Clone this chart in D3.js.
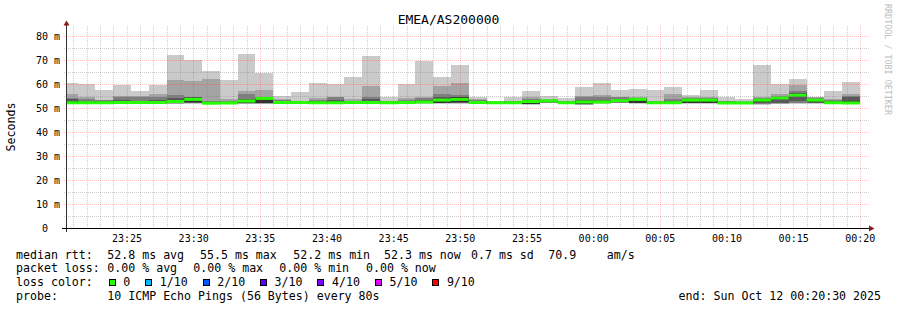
<!DOCTYPE html>
<meta charset="utf-8">
<style>
body { margin: 0; background: #fff; }
svg text { font-family: "DejaVu Sans Mono", monospace; fill: #000; }
.axis text { font-size: 10px; white-space: pre; }
.axis .domain { display: none; }
.legend { font-size: 11.6px; white-space: pre; }
</style>
<body>
<script src="https://cdn.jsdelivr.net/npm/d3@7"></script>
<svg id="chart" width="897" height="310"></svg>
<script>

// 80s steps from 23:20:00, 10 pings per step (sorted), values in ms
var minRtt = [51.8,51.9,51.9,51.9,51.9,51.9,51.9,52.0,51.8,51.8, 51.9,51.9,51.9,51.9,51.9,51.9,51.9,51.9,51.9,51.9, 52.0,52.0,52.0,51.9,51.9,51.9,51.6,52.1,51.9,51.5, 52.0,52.1,52.0,51.9,51.9,52.0,52.0,51.8,51.8,51.6, 51.9,52.0,52.0,51.9,51.9];
var rtt2   = [51.9,52.0,52.0,52.0,52.0,52.0,52.0,52.1,51.9,51.9, 52.0,52.0,52.0,52.0,52.0,52.0,52.0,52.0,52.0,52.0, 52.1,52.1,52.1,52.0,52.0,52.0,51.7,52.3,52.0,51.6, 52.1,52.3,52.1,52.0,52.0,52.1,52.1,51.9,51.9,51.8, 52.0,52.2,52.1,52.0,52.0];
var rtt3   = [52.0,52.1,52.1,52.1,52.1,52.1,52.1,52.2,52.0,52.0, 52.1,52.1,52.1,52.1,52.1,52.1,52.1,52.1,52.1,52.1, 52.2,52.2,52.3,52.1,52.1,52.1,51.8,52.5,52.1,51.7, 52.2,52.5,52.2,52.1,52.1,52.2,52.2,52.0,52.0,52.0, 52.1,52.5,52.3,52.1,52.1];
var rtt4   = [52.1,52.2,52.2,52.2,52.2,52.2,52.2,52.4,52.1,52.1, 52.2,52.2,52.2,52.2,52.2,52.2,52.2,52.2,52.2,52.2, 52.3,52.3,52.5,52.2,52.2,52.2,51.9,52.7,52.2,51.8, 52.3,52.7,52.3,52.2,52.2,52.3,52.3,52.1,52.1,52.2, 52.2,53.0,52.5,52.2,52.2];
var rtt5   = [52.2,52.3,52.3,52.3,52.3,52.3,52.3,52.6,52.2,52.2, 52.3,52.3,52.3,52.3,52.3,52.3,52.3,52.3,52.3,52.3, 52.4,52.5,52.8,52.3,52.3,52.3,52.0,53.0,52.3,51.9, 52.4,53.0,52.4,52.3,52.3,52.4,52.4,52.2,52.2,52.6, 53.8,54.6,52.8,52.3,52.3];
var rtt6   = [53.2,52.9,52.8,53.0,52.8,52.9,53.2,54.4,52.6,52.7, 53.4,54.4,52.8,52.7,52.9,53.0,52.8,53.2,52.6,52.9, 53.0,53.8,54.6,52.8,52.7,52.7,53.3,53.3,52.7,53.1, 53.1,53.5,54.0,52.7,52.9,53.8,53.8,52.6,52.6,53.6, 54.8,56.0,53.7,52.8,53.0];
var rtt7   = [53.8,53.3,53.1,53.7,53.0,53.5,54.2,54.6,52.8,52.9, 53.8,54.6,53.0,52.8,53.2,53.5,53.0,53.8,52.8,53.2, 53.4,54.6,54.8,53.0,52.8,52.8,53.5,53.4,52.8,53.4, 53.6,53.8,54.1,52.8,53.2,53.9,53.9,52.8,52.7,53.8, 55.0,56.5,53.9,53.0,55.0];
var rtt8   = [54.5,54.0,53.4,54.6,54.8,54.6,55.8,55.0,53.0,53.2, 56.0,55.0,53.4,53.0,53.6,54.6,53.3,55.0,53.0,53.6, 54.2,56.2,55.5,53.4,52.9,53.0,53.8,53.6,53.0,54.6, 54.6,54.6,54.3,53.0,54.0,54.2,54.2,53.0,52.9,54.2, 55.4,57.5,54.2,53.4,55.2];
var rtt9   = [56.2,54.9,53.7,55.4,55.4,56.2,61.7,61.3,62.5,53.8, 57.5,57.9,53.8,53.3,54.2,55.0,53.8,59.2,53.3,54.2, 55.0,59.2,60.8,53.8,53.0,53.2,54.6,54.0,53.2,55.4, 55.8,55.0,54.6,53.3,56.2,54.6,54.6,53.3,53.0,55.0, 56.2,59.6,54.6,53.8,56.2];
var maxRtt = [60.8,60.4,57.9,60.0,57.5,60.0,72.5,70.4,65.8,61.7, 72.9,64.6,55.4,56.7,60.8,60.4,63.3,71.7,54.6,60.4, 70.0,63.3,68.3,55.0,53.3,54.6,57.1,55.4,54.2,58.8, 60.8,57.9,58.3,57.9,58.8,55.8,57.9,54.6,53.8,68.3, 60.4,62.1,55.0,57.1,61.2];
var median = [52.4,52.4,52.4,52.5,52.5,52.5,52.9,53.8,52.2,52.3, 53.1,54.2,52.5,52.5,52.4,52.4,52.5,52.5,52.4,52.5, 52.7,53.5,53.8,52.5,52.4,52.4,52.9,53.2,52.4,52.7, 52.7,53.3,53.8,52.4,52.4,53.5,53.5,52.3,52.3,53.5, 54.4,55.5,53.5,52.4,52.3];

var yMajor = [10, 20, 30, 40, 50, 60, 70, 80];
var yMinor = [5, 15, 25, 35, 45, 55, 65, 75];

var lossLabels = ["0", "1/10", "2/10", "3/10", "4/10", "5/10", "9/10"];
var lossColors = ["#26ff00", "#00b8ff", "#0059ff", "#5e00ff", "#7e00ff", "#dd00ff", "#ff0000"];

var smokeColors = ["#cacaca", "#a4a4a4", "#7e7e7e", "#585858", "#323232"];

var statsRtt = ["median rtt:", "52.8 ms avg", "55.5 ms max", "52.2 ms min", "52.3 ms now", "0.7 ms sd", "70.9", "am/s"];
var statsLoss = ["packet loss:", "0.00 % avg", "0.00 % max", "0.00 % min", "0.00 % now"];
var probeText = ["probe:", "10 ICMP Echo Pings (56 Bytes) every 80s"];

var stepSec = 80;
var firstBin = new Date(2025, 9, 11, 23, 20, 0),
    tStart = new Date(2025, 9, 11, 23, 20, 30),
    tEnd = new Date(2025, 9, 12, 0, 20, 30);

var svg = d3.select("#chart");

svg.append("rect").attr("width", 897).attr("height", 310).attr("fill", "#fff");

var x = d3.scaleTime().domain([tStart, tEnd]).range([66.5, 866.5]);
var y = d3.scaleLinear().domain([0, 83.75]).range([228.5, 27.5]);

function binStart(i) { return new Date(firstBin.getTime() + i * stepSec * 1000); }
function binEnd(i) { return new Date(firstBin.getTime() + (i + 1) * stepSec * 1000); }

// smoke: pairs (min,max), (2,9), (3,8), (4,7), (5,6)
var lowers = [minRtt, rtt2, rtt3, rtt4, rtt5],
    uppers = [maxRtt, rtt9, rtt8, rtt7, rtt6];

var smoke = svg.append("g").attr("shape-rendering", "crispEdges");
lowers.forEach(function(lo, k) {
  smoke.append("g")
    .selectAll("rect")
    .data(d3.range(median.length))
    .enter().append("rect")
      .attr("x", function(i) { return Math.max(67, x(binStart(i))); })
      .attr("width", function(i) { return x(binEnd(i)) - Math.max(67, x(binStart(i))); })
      .attr("y", function(i) { return y(uppers[k][i]); })
      .attr("height", function(i) { return y(lo[i]) - y(uppers[k][i]); })
      .attr("fill", smokeColors[k]);
});

// median band, coloured by loss (all 0 here)
svg.append("g")
    .selectAll("rect")
    .data(d3.range(median.length))
    .enter().append("rect")
      .attr("x", function(i) { return Math.max(67, x(binStart(i))); })
      .attr("width", function(i) { return x(binEnd(i)) - Math.max(67, x(binStart(i))); })
      .attr("y", function(i) { return y(median[i]) - 1.5; })
      .attr("height", 3)
      .attr("fill", lossColors[0]);

// grid (drawn over the data like rrdtool)
var minorCol = "rgba(130,130,130,0.4)",
    majorCol = "rgba(255,30,30,0.28)";
var grid = svg.append("g").attr("shape-rendering", "crispEdges");

var xMinor = x.ticks(d3.timeMinute.every(1)).filter(function(d) { return d.getMinutes() % 5 != 0; });
var xMajor = x.ticks(d3.timeMinute.every(5));

grid.selectAll(".xmin").data(xMinor).enter().append("line")
    .attr("x1", function(d) { return Math.round(x(d)) + 0.5; })
    .attr("x2", function(d) { return Math.round(x(d)) + 0.5; })
    .attr("y1", 26).attr("y2", 230)
    .attr("stroke", minorCol).attr("stroke-dasharray", "1,1");
grid.selectAll(".xmaj").data(xMajor).enter().append("line")
    .attr("x1", function(d) { return Math.round(x(d)) + 0.5; })
    .attr("x2", function(d) { return Math.round(x(d)) + 0.5; })
    .attr("y1", 26).attr("y2", 231)
    .attr("stroke", majorCol).attr("stroke-dasharray", "1,1");
grid.selectAll(".ymin").data(yMinor).enter().append("line")
    .attr("x1", 64).attr("x2", 869)
    .attr("y1", function(d) { return Math.round(y(d) - 0.5) + 0.5; })
    .attr("y2", function(d) { return Math.round(y(d) - 0.5) + 0.5; })
    .attr("stroke", minorCol).attr("stroke-dasharray", "1,1");
grid.selectAll(".ymaj").data(yMajor).enter().append("line")
    .attr("x1", 62).attr("x2", 869)
    .attr("y1", function(d) { return Math.round(y(d) - 0.5) + 0.5; })
    .attr("y2", function(d) { return Math.round(y(d) - 0.5) + 0.5; })
    .attr("stroke", majorCol).attr("stroke-dasharray", "1,1");

// axes labels through d3 axes
var yAxis = d3.axisLeft(y)
    .tickValues([0].concat(yMajor))
    .tickSize(0)
    .tickPadding(6.5)
    .tickFormat(function(d) { return d == 0 ? "0  " : d + " m"; });
svg.append("g").attr("class", "axis")
    .attr("transform", "translate(66.5,0)")
    .call(yAxis)
  .selectAll("text").attr("xml:space", "preserve");

var xAxis = d3.axisBottom(x)
    .ticks(d3.timeMinute.every(5))
    .tickSize(0)
    .tickPadding(6)
    .tickFormat(d3.timeFormat("%H:%M"));
svg.append("g").attr("class", "axis")
    .attr("transform", "translate(0,228.5)")
    .call(xAxis);

// axis lines and arrows
svg.append("line").attr("x1", 66.5).attr("x2", 66.5).attr("y1", 232).attr("y2", 24)
    .attr("stroke", "#333").attr("shape-rendering", "crispEdges");
svg.append("line").attr("x1", 62).attr("x2", 870).attr("y1", 228.5).attr("y2", 228.5)
    .attr("stroke", "#000").attr("shape-rendering", "crispEdges");
svg.append("path").attr("d", "M66.5,20.5L63.5,25.5L69.5,25.5Z").attr("fill", "#8b1a1a");
svg.append("path").attr("d", "M874.5,228.5L869,225.5L869,231.5Z").attr("fill", "#8b1a1a");

// title, vertical label, watermark
svg.append("text").attr("x", 448.5).attr("y", 24)
    .attr("text-anchor", "middle").style("font-size", "13px")
    .text("EMEA/AS200000");
svg.append("text")
    .attr("transform", "translate(14.5,127) rotate(-90)")
    .attr("text-anchor", "middle").style("font-size", "11.6px")
    .text("Seconds");
svg.append("text")
    .attr("transform", "translate(884.5,4) rotate(90)")
    .style("font-size", "8.4px").style("fill", "#bdbdbd")
    .text("RRDTOOL / TOBI OETIKER");

// legend, items placed at rrdtool's positions
var lh = 13.85, ly = 258.5;
var rttX = [16, 107.3, 200, 293.3, 384, 471, 548.3, 606.7],
    lossX = [16, 107.3, 193.3, 279.3, 366],
    probeX = [16, 107.3];

function legendRow(items, xs, row) {
  svg.append("g").selectAll("text").data(items).enter().append("text")
      .attr("class", "legend")
      .attr("x", function(d, i) { return xs[i]; })
      .attr("y", ly + row * lh)
      .text(function(d) { return d; });
}
legendRow(statsRtt, rttX, 0);
legendRow(statsLoss, lossX, 1);
legendRow(["loss color:"], [16], 2);
legendRow(probeText, probeX, 3);

var cw = 6.98, lx = 108.7;
lossLabels.forEach(function(lab, i) {
  svg.append("rect")
      .attr("x", lx + 0.5).attr("y", ly + 2 * lh - 6.5)
      .attr("width", 6).attr("height", 6)
      .attr("fill", lossColors[i]).attr("stroke", "#000").attr("stroke-width", 1)
      .attr("shape-rendering", "crispEdges");
  svg.append("text").attr("class", "legend")
      .attr("x", lx + 14.6).attr("y", ly + 2 * lh)
      .text(lab);
  lx += 14.6 + lab.length * cw + 14.9;
});

svg.append("text").attr("class", "legend")
    .attr("x", 881).attr("y", ly + 3 * lh)
    .attr("text-anchor", "end")
    .text("end: Sun Oct 12 00:20:30 2025");

</script>
</body>
